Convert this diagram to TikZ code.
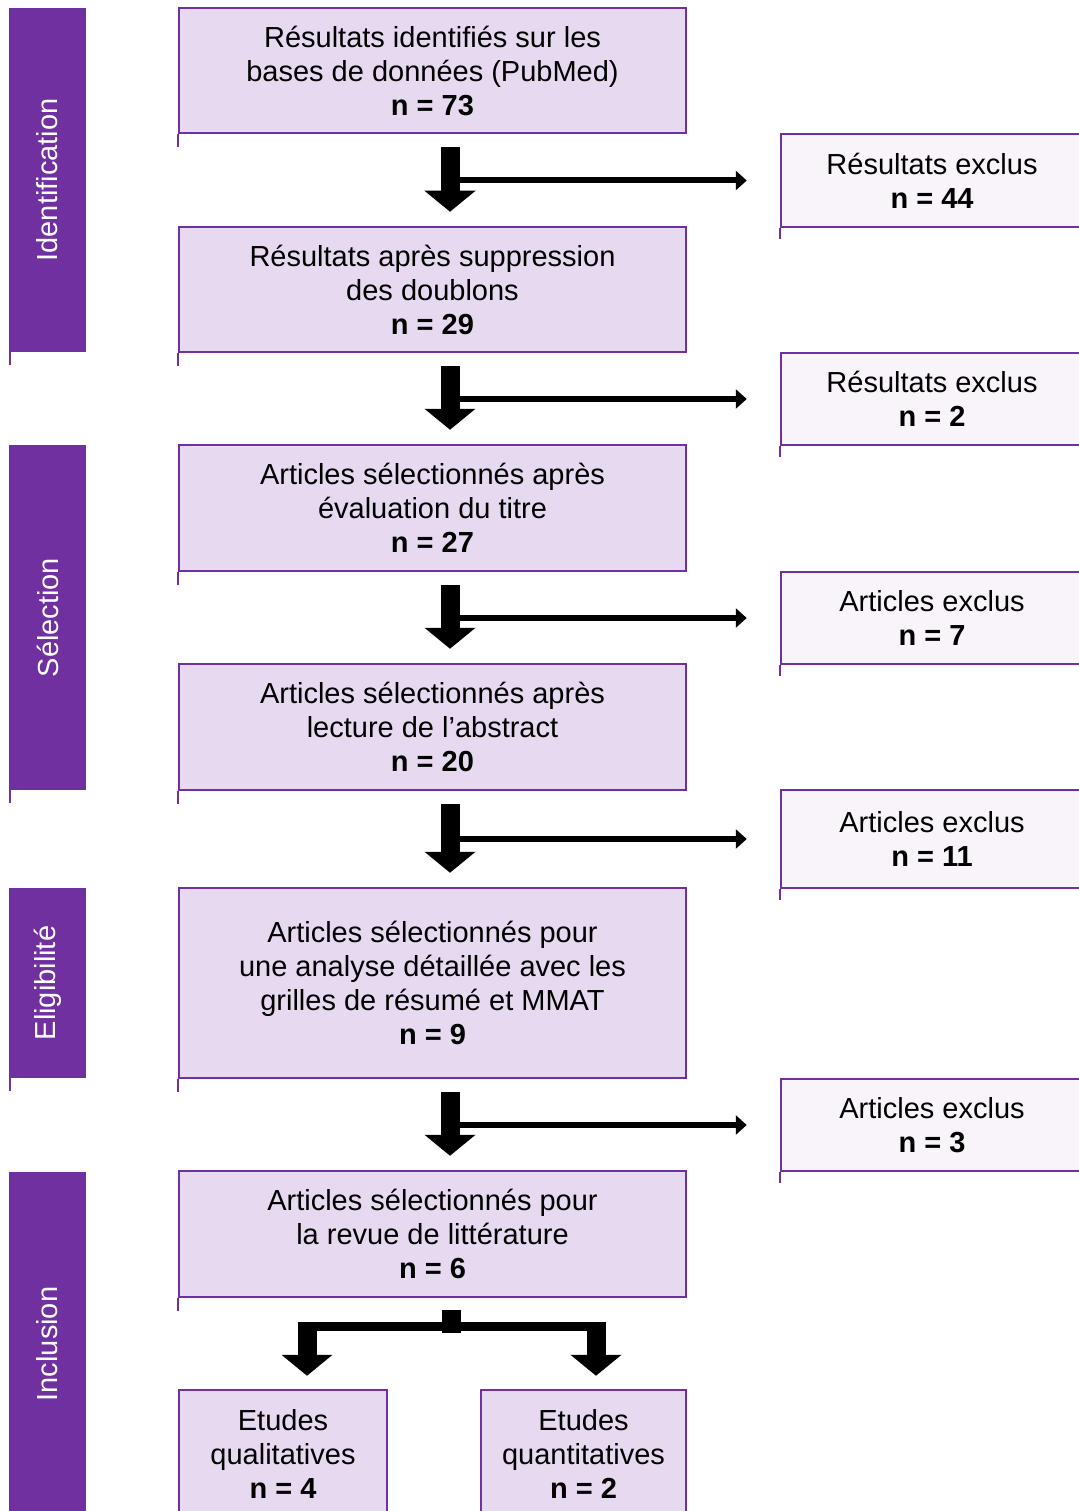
\documentclass[tikz,border=0pt]{standalone}
\usepackage{fontspec}
\setmainfont{Liberation Sans}
\usetikzlibrary{arrows.meta,calc}
\definecolor{pborder}{HTML}{7030A0}
\definecolor{pfill}{HTML}{E6D9F0}
\definecolor{plight}{HTML}{F8F4FA}
\begin{document}
\begin{tikzpicture}[x=1pt,y=-1pt,
  every node/.style={font=\fontsize{29}{34}\selectfont, align=center, inner sep=0pt},
  mainbox/.style={draw=pborder, line width=2.5pt, fill=pfill, minimum width=507pt},
  sidebox/.style={draw=pborder, line width=2.5pt, fill=plight, minimum width=302pt},
  phase/.style={fill=pborder, minimum width=77pt, text=white},
  fatarrow/.style={line width=19pt, -{Triangle[width=50pt,length=21pt]}},
  thinarrow/.style={line width=6pt, -{Triangle[width=19pt,length=11pt]}},
  tail/.style={draw=pborder, line width=2.5pt}
]
\useasboundingbox (0,0) rectangle (1078,1511);
\fill[white] (0,0) rectangle (1078,1511);

% phase bars
\node[phase, minimum height=344pt] (p1) at (47.5,180) {\rotatebox{90}{Identification}};
\node[phase, minimum height=345pt] (p2) at (47.5,617.5) {\rotatebox{90}{Sélection}};
\node[phase, minimum height=190pt] (p3) at (47.5,983) {\rotatebox{90}{Eligibilité}};
\node[phase, minimum height=344pt] (p4) at (47.5,1344) {\rotatebox{90}{Inclusion}};

% main boxes
\node[mainbox, minimum height=125pt] (b1) at (432.5,70.5) {Résultats identifiés sur les\\bases de données (PubMed)\\\textbf{n = 73}};
\node[mainbox, minimum height=125pt] (b2) at (432.5,289.5) {Résultats après suppression\\des doublons\\\textbf{n = 29}};
\node[mainbox, minimum height=126pt] (b3) at (432.5,508) {Articles sélectionnés après\\évaluation du titre\\\textbf{n = 27}};
\node[mainbox, minimum height=126pt] (b4) at (432.5,727) {Articles sélectionnés après\\lecture de l’abstract\\\textbf{n = 20}};
\node[mainbox, minimum height=190pt] (b5) at (432.5,983) {Articles sélectionnés pour\\une analyse détaillée avec les\\grilles de résumé et MMAT\\\textbf{n = 9}};
\node[mainbox, minimum height=126pt] (b6) at (432.5,1234) {Articles sélectionnés pour\\la revue de littérature\\\textbf{n = 6}};
\node[mainbox, minimum width=208pt, minimum height=128pt] (b7) at (283,1454) {Etudes\\qualitatives\\\textbf{n = 4}};
\node[mainbox, minimum width=205pt, minimum height=128pt] (b8) at (583.5,1454) {Etudes\\quantitatives\\\textbf{n = 2}};

% excluded boxes
\node[sidebox, minimum height=93pt] (r1) at (932,180.5) {Résultats exclus\\\textbf{n = 44}};
\node[sidebox, minimum height=92pt] (r2) at (932,399) {Résultats exclus\\\textbf{n = 2}};
\node[sidebox, minimum height=92pt] (r3) at (932,618) {Articles exclus\\\textbf{n = 7}};
\node[sidebox, minimum height=98pt] (r4) at (932,839) {Articles exclus\\\textbf{n = 11}};
\node[sidebox, minimum height=92pt] (r5) at (932,1125) {Articles exclus\\\textbf{n = 3}};

% little tails below the left edges
\foreach \n in {b1,b2,b3,b4,b5,b6} \draw[tail] (\n.south west) -- ++(0,13);
\foreach \n in {r1,r2,r3,r4,r5} \draw[tail] (\n.south west) -- ++(0,11);
\foreach \n in {p1,p2,p3} \draw[tail] ($(\n.south west)+(1.25,0)$) -- ++(0,13);

% down arrows and side arrows
\foreach \a/\b/\r in {b1/b2/r1,b2/b3/r2,b3/b4/r3,b4/b5/r4,b5/b6/r5}{
  \draw[thinarrow] ($(\r.west)+(-331,0)$) -- ($(\r.west)+(-33,0)$);
  \draw[fatarrow] ($(\a.south)+(17.5,13)$) -- ($(\b.north)+(17.5,-14)$);
}

% split to final boxes
\coordinate (sl) at ($(b7.north)+(24,-66.5)$);
\coordinate (sr) at ($(b8.north)+(12.5,-66.5)$);
\draw[line width=19pt] ($(b6.south)+(18.5,12)$) -- ($(b6.south)+(18.5,35)$);
\draw[line width=9pt] ($(sl)+(-9.5,4.5)$) -- ($(sr)+(9.5,4.5)$);
\draw[fatarrow] (sl) -- ($(b7.north)+(24,-13)$);
\draw[fatarrow] (sr) -- ($(b8.north)+(12.5,-13)$);
\end{tikzpicture}
\end{document}
